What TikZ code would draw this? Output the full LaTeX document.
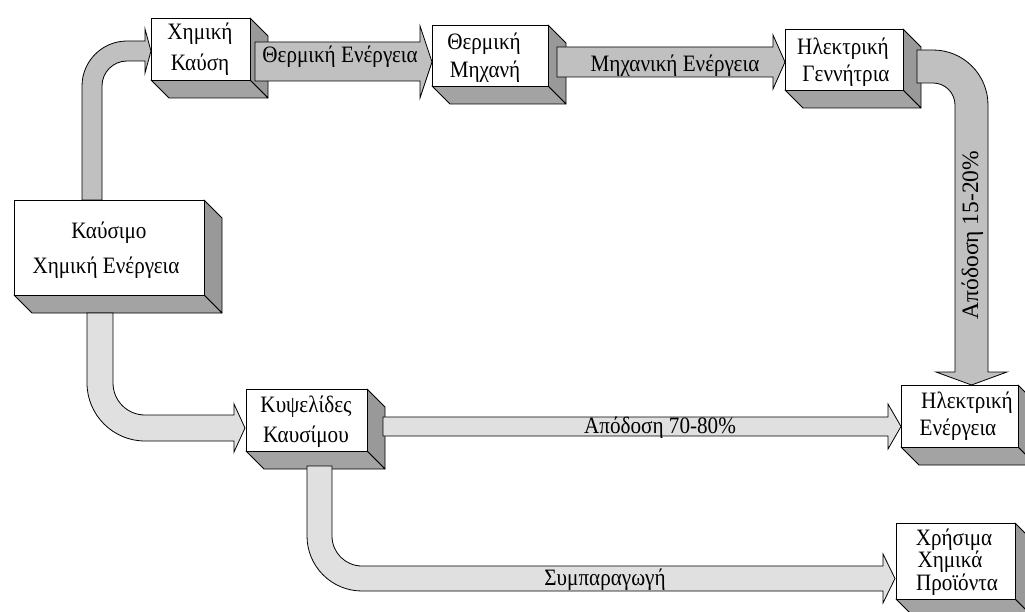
\documentclass[tikz,border=0pt]{standalone}
\usepackage{fontspec}
\setmainfont{Liberation Serif}[FakeStretch=0.9]
\newfontfamily\plainserif{Liberation Serif}
\definecolor{sideg}{HTML}{999999}
\definecolor{botg}{HTML}{A3A3A3}
\definecolor{arrA}{HTML}{C0C0C0}
\definecolor{arrB}{HTML}{E0E0E0}
\tikzset{
  frontbox/.style={draw=black, fill=white, line width=0.8pt, inner sep=0pt, outer sep=0pt},
  boxside/.style={draw=black, fill=sideg, line width=0.8pt, line join=round},
  boxbottom/.style={draw=black, fill=botg, line width=0.8pt, line join=round},
  txt/.style={font=\fontsize{23.5}{28}\selectfont, inner sep=0pt, anchor=base},
  blockA/.style={draw=black, fill=arrA, line width=0.8pt, line join=miter},
  blockB/.style={draw=black, fill=arrB, line width=0.8pt, line join=miter},
}
\newcommand\cubebox[5]{%
  \path[boxside] (#4,#3) -- (#4+18,#3+18) -- (#4+18,#5+18) -- (#4,#5) -- cycle;
  \path[boxbottom] (#2,#5) -- (#4,#5) -- (#4+18,#5+18) -- (#2+18,#5+18) -- cycle;
  \node[frontbox, minimum width={(#4-#2)*1pt}, minimum height={(#5-#3)*1pt}] (#1) at ({(#2+#4)/2},{(#3+#5)/2}) {};
}
\begin{document}
\begin{tikzpicture}[x=1pt,y=-1pt]
\clip (0,0) rectangle (1025,612);
\fill[white] (0,0) rectangle (1025,612);
% boxes
\cubebox{kafsi}{151}{18}{250}{80}
\cubebox{kafsimo}{14}{200}{204}{295}
\cubebox{thermech}{432}{25}{548}{86}
\cubebox{genn}{785}{29}{903}{90}
\cubebox{kypsel}{246}{389}{367}{451}
\cubebox{elen}{901}{385}{1018}{447}
\cubebox{chem}{896}{523}{1015}{599}
% block arrows
\path[blockA] (82,200) -- (82,86) .. controls (82,61.2) and (102.2,41) .. (127,41) -- (145,41) -- (145,29) -- (151,51) -- (145,73) -- (145,61) -- (127,61) .. controls (113.2,61) and (102,72.2) .. (102,86) -- (102,200) -- cycle;
\path[blockA] (255,42) -- (420,42) -- (420,26) -- (432,62) -- (420,98) -- (420,81) -- (255,81) -- cycle;
\path[blockA] (557,47) -- (773,47) -- (773,35) -- (785,62) -- (773,89) -- (773,77) -- (557,77) -- cycle;
\path[blockA] (917,50) -- (933,50) .. controls (963.4,50) and (988,74.6) .. (988,105) -- (988,372) -- (1007,372) -- (971.5,385) -- (936,372) -- (955,372) -- (955,105) .. controls (955,92.9) and (945.1,83) .. (933,83) -- (917,83) -- cycle;
\path[blockB] (87,313) -- (87,383) .. controls (87,415) and (113,441) .. (145,441) -- (234,441) -- (234,452) -- (245,428) -- (234,404) -- (234,415) -- (145,415) .. controls (127.3,415) and (113,400.7) .. (113,383) -- (113,313) -- cycle;
\path[blockB] (383,417) -- (888,417) -- (888,404) -- (901,426.5) -- (888,449) -- (888,436) -- (383,436) -- cycle;
\path[blockB] (307,466) -- (307,536) .. controls (307,566.4) and (331.6,591) .. (362,591) -- (883,591) -- (883,603) -- (895,578.5) -- (883,554) -- (883,566) -- (362,566) .. controls (345.4,566) and (332,552.6) .. (332,536) -- (332,466) -- cycle;
% box texts
\node[txt] (t1a) at (200,40) {Χημική};
\node[txt] (t1b) at (200,71) {Καύση};
\node[txt] (t2a) at (109,239) {Καύσιμο};
\node[txt] (t2b) at (106,273) {Χημική Ενέργεια};
\node[txt] (t3a) at (484,50) {Θερμική};
\node[txt] (t3b) at (485,78) {Μηχανή};
\node[txt] (t4a) at (843,55) {Ηλεκτρική};
\node[txt] (t4b) at (846,82) {Γεννήτρια};
\node[txt] (t5a) at (306,412) {Κυψελίδες};
\node[txt] (t5b) at (306,442) {Καυσίμου};
\node[txt] (t6a) at (967,408) {Ηλεκτρική};
\node[txt] (t6b) at (958,435) {Ενέργεια};
\node[txt] (t7a) at (954,545) {Χρήσιμα};
\node[txt] (t7b) at (950,567) {Χημικά};
\node[txt] (t7c) at (957,590) {Προϊόντα};
% arrow labels
\node[txt] (l1) at (340,63) {Θερμική Ενέργεια};
\node[txt] (l2) at (675,72) {Μηχανική Ενέργεια};
\node[txt, font=\plainserif\fontsize{23.5}{28}\selectfont, rotate=90] (l3) at (978,235) {Απόδοση 15-20\%};
\node[txt] (l4) at (660,433) {Απόδοση 70-80\%};
\node[txt] (l5) at (605,585) {Συμπαραγωγή};
\end{tikzpicture}
\end{document}
